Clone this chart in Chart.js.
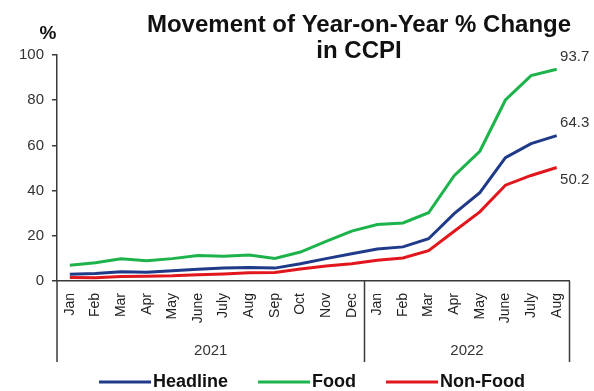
<!DOCTYPE html>
<html lang="en">
<head>
  <meta charset="UTF-8">
  <title>Movement of Year-on-Year % Change in CCPI</title>
  <script src="https://cdn.jsdelivr.net/npm/chart.js"></script>
  <style>
    body {
      margin: 0;
      padding: 0;
      background: #ffffff;
    }

    .wrap {
      width: 594px;
      height: 391px;
    }
  </style>
</head>

<body>
  <div class="wrap">
    <canvas id="ccpiChart" width="594" height="391"></canvas>
  </div>

  <script>
    // Months on the x axis, grouped by year
    const months = ['Jan', 'Feb', 'Mar', 'Apr', 'May', 'June', 'July', 'Aug', 'Sep', 'Oct', 'Nov', 'Dec',
                    'Jan', 'Feb', 'Mar', 'Apr', 'May', 'June', 'July', 'Aug'];
    const years = ['2021', '2022'];
    const monthsPerYear = [12, 8];

    // Year-on-year % change
    const headline = [3.0, 3.3, 4.1, 3.9, 4.5, 5.2, 5.7, 6.0, 5.7, 7.6, 9.9, 12.1,
                      14.2, 15.1, 18.7, 29.8, 39.1, 54.6, 60.8, 64.3];
    const food = [7.0, 8.1, 9.8, 9.0, 9.9, 11.3, 11.0, 11.5, 10.0, 12.8, 17.5, 22.1,
                  25.0, 25.7, 30.2, 46.6, 57.4, 80.1, 90.9, 93.7];
    const nonFood = [1.5, 1.4, 2.0, 2.1, 2.3, 2.8, 3.1, 3.6, 3.8, 5.3, 6.6, 7.6,
                     9.2, 10.2, 13.4, 22.0, 30.6, 42.4, 46.7, 50.2];

    const yTicks = [0, 20, 40, 60, 80, 100];

    const NAVY = '#1f3a88';
    const GREEN = '#1db34b';
    const RED = '#e2171d';
    const AXIS = '#3a3a3a';
    const FONT = '"Liberation Sans", Arial, sans-serif';

    // Title, unit, year brackets, end labels and legend
    const decorations = {
      id: 'decorations',
      afterDraw(chart) {
        const ctx = chart.ctx;
        const x = chart.scales.x;
        const y = chart.scales.y;
        const area = chart.chartArea;

        ctx.save();

        // title
        ctx.fillStyle = '#111';
        ctx.textAlign = 'center';
        ctx.textBaseline = 'alphabetic';
        ctx.font = 'bold 24px ' + FONT;
        ctx.fillText('Movement of Year-on-Year % Change', 359, 32);
        ctx.fillText('in CCPI', 359, 58);

        // unit
        ctx.font = 'bold 19px ' + FONT;
        ctx.fillText('%', 48, 39);

        // year brackets under the month labels
        const bottom = 362;
        ctx.strokeStyle = AXIS;
        ctx.lineWidth = 1.5;
        let start = 0;
        const edges = [area.left];
        monthsPerYear.forEach((n) => {
          const end = start + n - 1;
          const right = end < months.length - 1
            ? (x.getPixelForValue(end) + x.getPixelForValue(end + 1)) / 2
            : area.right;
          edges.push(right);
          start += n;
        });
        edges.forEach((px) => {
          ctx.beginPath();
          ctx.moveTo(px, area.bottom);
          ctx.lineTo(px, bottom);
          ctx.stroke();
        });
        ctx.font = '15px ' + FONT;
        ctx.fillStyle = '#333';
        ctx.textBaseline = 'middle';
        years.forEach((yr, i) => {
          ctx.fillText(yr, (edges[i] + edges[i + 1]) / 2, 351);
        });

        // values at the last month
        ctx.font = '15px ' + FONT;
        ctx.fillStyle = '#333';
        const lastIdx = months.length - 1;
        const lastX = x.getPixelForValue(lastIdx);
        const endLabels = [
          { value: food[lastIdx], dy: -12 },
          { value: headline[lastIdx], dy: -13 },
          { value: nonFood[lastIdx], dy: 12 }
        ];
        endLabels.forEach((l) => {
          ctx.fillText(l.value.toFixed(1), lastX + 18, y.getPixelForValue(l.value) + l.dy);
        });

        // legend
        const items = chart.data.datasets.map(ds => ({ text: ds.label, color: ds.borderColor }));
        ctx.font = 'bold 18px ' + FONT;
        const lineLen = 52;
        const gap = 2;
        const itemGap = 30;
        let total = 0;
        items.forEach((it, i) => {
          it.w = ctx.measureText(it.text).width;
          total += lineLen + gap + it.w + (i < items.length - 1 ? itemGap : 0);
        });
        let lx = 312 - total / 2;
        const ly = 382;
        ctx.textAlign = 'left';
        ctx.fillStyle = '#111';
        items.forEach((it) => {
          ctx.strokeStyle = it.color;
          ctx.lineWidth = 3;
          ctx.beginPath();
          ctx.moveTo(lx, ly);
          ctx.lineTo(lx + lineLen, ly);
          ctx.stroke();
          lx += lineLen + gap;
          ctx.fillText(it.text, lx, ly);
          lx += it.w + itemGap;
        });

        ctx.restore();
      }
    };

    const ctx = document.getElementById('ccpiChart').getContext('2d');

    new Chart(ctx, {
      type: 'line',
      data: {
        labels: months,
        datasets: [
          { label: 'Headline', data: headline, borderColor: NAVY, backgroundColor: NAVY },
          { label: 'Food', data: food, borderColor: GREEN, backgroundColor: GREEN },
          { label: 'Non-Food', data: nonFood, borderColor: RED, backgroundColor: RED }
        ]
      },
      options: {
        responsive: false,
        animation: false,
        devicePixelRatio: 1,
        layout: {
          padding: { top: 55, left: 0, right: 24.5, bottom: 0 }
        },
        elements: {
          line: { borderWidth: 3, tension: 0 },
          point: { radius: 0, hoverRadius: 0 }
        },
        plugins: {
          legend: { display: false },
          title: { display: false },
          tooltip: { enabled: false }
        },
        scales: {
          x: {
            offset: true,
            grid: { display: true, drawOnChartArea: false, drawTicks: false },
            border: { display: true, color: AXIS, width: 1.5 },
            ticks: {
              autoSkip: false,
              minRotation: 90,
              maxRotation: 90,
              padding: 12,
              color: '#222',
              font: { family: FONT, size: 14 }
            },
            afterFit(scale) {
              scale.height = 110;
            }
          },
          y: {
            min: 0,
            max: 100,
            afterBuildTicks(scale) {
              scale.ticks = yTicks.map(v => ({ value: v }));
            },
            grid: { drawOnChartArea: false, drawTicks: true, tickLength: 5, color: AXIS, lineWidth: 1.5 },
            border: { display: true, color: AXIS, width: 1.5 },
            ticks: {
              padding: 8,
              color: '#333',
              font: { family: FONT, size: 15 }
            },
            afterFit(scale) {
              scale.width = 57;
            }
          }
        }
      },
      plugins: [decorations]
    });
  </script>
</body>
</html>
